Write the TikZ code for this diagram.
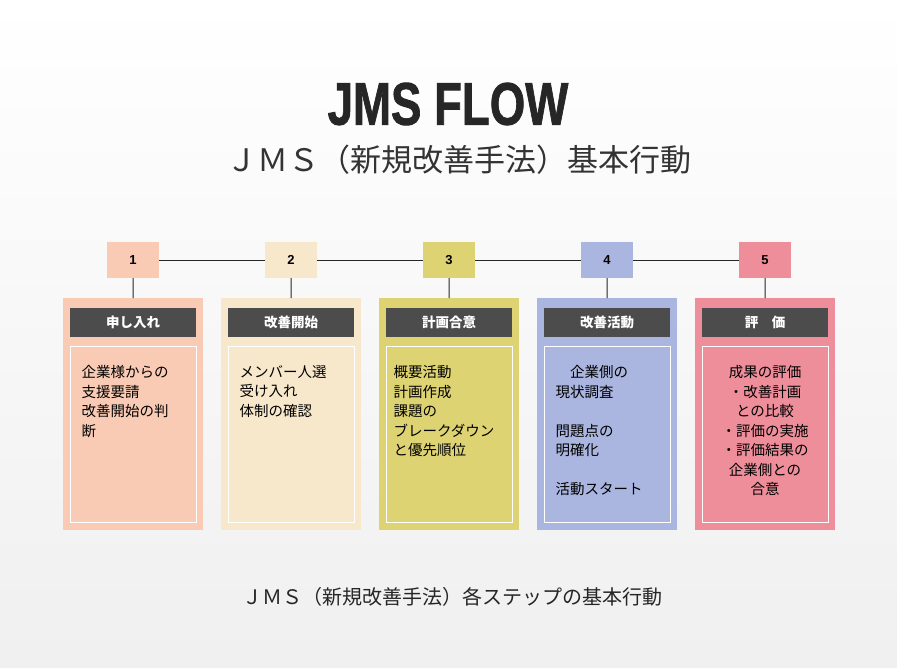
\documentclass[tikz,border=0pt]{standalone}
\usepackage{fontspec}
\setmainfont{Liberation Sans}
\newfontfamily\cjk{Noto Sans CJK JP}
\newfontfamily\ttlfont{Liberation Sans Bold}[FakeBold=1.5]
\begin{document}
\begin{tikzpicture}[x=1pt,y=-1pt,
 num/.style={minimum width=52pt,minimum height=36pt,inner sep=0pt,font=\bfseries\fontsize{13}{13}\selectfont},
 card/.style={minimum width=140pt,minimum height=232pt,inner sep=0pt,anchor=north west},
 head/.style={fill=black!70,minimum width=126pt,minimum height=29pt,inner sep=0pt,text=white,font=\cjk\bfseries\fontsize{13.5}{13.5}\selectfont,anchor=north west},
 inner/.style={draw=white,line width=1.2pt,minimum width=126pt,minimum height=176pt,inner sep=0pt,anchor=north west},
 body/.style={font=\cjk\fontsize{14.5}{19.5}\selectfont,align=left,anchor=north west},
 conn/.style={line width=1pt,black!85}]
\definecolor{c1}{HTML}{F9CBB5}\definecolor{c2}{HTML}{F7E8CC}\definecolor{c3}{HTML}{DDD373}
\definecolor{c4}{HTML}{AAB5E0}\definecolor{c5}{HTML}{EF8E9B}
\fill[top color=white,bottom color=black!6] (0,0) rectangle (897,667);
\useasboundingbox (0,0) rectangle (897,667);
\node[font=\ttlfont\fontsize{60}{60}\selectfont,text=black!85,xscale=0.76] (title) at (448,104) {JMS FLOW};
\node[font=\cjk\fontsize{31}{31}\selectfont,text=black!80] (sub) at (459,160) {ＪＭＳ（新規改善手法）基本行動};
\node[font=\cjk\fontsize{20}{20}\selectfont,text=black!85] (foot) at (452,597) {ＪＭＳ（新規改善手法）各ステップの基本行動};
\foreach \i/\x/\h in {1/63/申し入れ,2/221/改善開始,3/379/計画合意,4/537/改善活動,5/695/評　価}{
 \node[card,fill=c\i] (card\i) at (\x,298) {};
 \node[num,fill=c\i] (n\i) at (\x+70,260) {\i};
 \node[head] (h\i) at (\x+7,308) {\h};
 \node[inner] (in\i) at (\x+7,346) {};
 \draw[conn] (n\i.south) -- (card\i.north);
}
\draw[conn] (n1) -- (n2); \draw[conn] (n2) -- (n3); \draw[conn] (n3) -- (n4); \draw[conn] (n4) -- (n5);
\node[body] (t1) at (78,362) {企業様からの\\支援要請\\改善開始の判\\断};
\node[body] (t2) at (236,362) {メンバー人選\\受け入れ\\体制の確認};
\node[body] (t3) at (390,362) {概要活動\\計画作成\\課題の\\ブレークダウン\\と優先順位};
\node[body] (t4) at (552,362) {　企業側の\\現状調査\\\\問題点の\\明確化\\\\活動スタート};
\node[body,align=center,anchor=north] (t5) at (765,362) {成果の評価\\・改善計画\\との比較\\・評価の実施\\・評価結果の\\企業側との\\合意};
\end{tikzpicture}
\end{document}
